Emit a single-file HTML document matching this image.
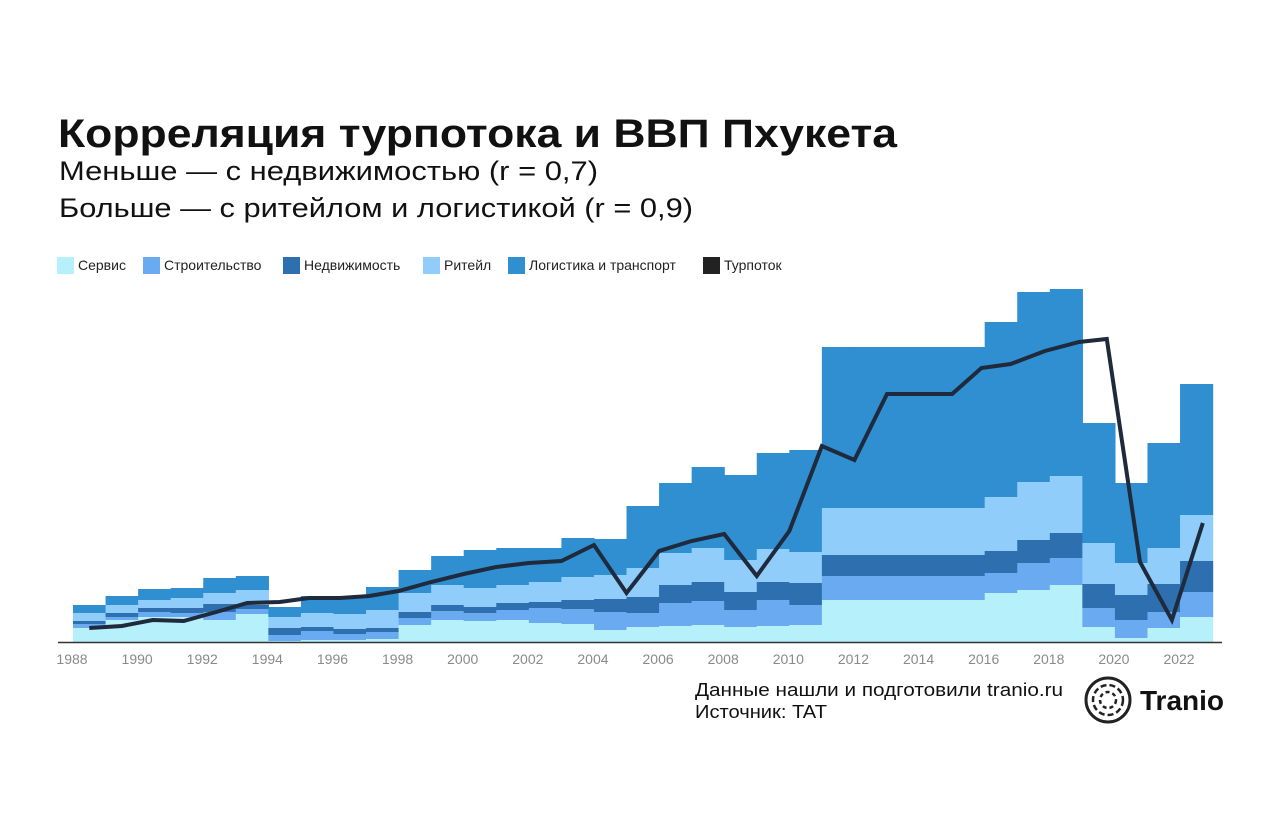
<!DOCTYPE html>
<html><head><meta charset="utf-8">
<style>
body{margin:0;background:#fff;width:1280px;height:820px;overflow:hidden;font-family:"Liberation Sans",sans-serif;}
svg{position:absolute;left:0;top:0}
</style></head>
<body>
<svg width="1280" height="820">
<text x="58" y="147" font-size="40" font-weight="bold" fill="#111" textLength="839" lengthAdjust="spacingAndGlyphs">Корреляция турпотока и ВВП Пхукета</text>
<text x="59" y="180" font-size="27" fill="#111" textLength="539" lengthAdjust="spacingAndGlyphs">Меньше — с недвижимостью (r = 0,7)</text>
<text x="59" y="217" font-size="27" fill="#111" textLength="634" lengthAdjust="spacingAndGlyphs">Больше — с ритейлом и логистикой (r = 0,9)</text>
<g id="legend"></g>
<g id="bars"></g>
<g id="axis"></g>
<g id="line"></g>
<text x="695" y="696" font-size="18" fill="#111" textLength="368" lengthAdjust="spacingAndGlyphs">Данные нашли и подготовили tranio.ru</text>
<text x="695" y="718" font-size="18" fill="#111" textLength="132" lengthAdjust="spacingAndGlyphs">Источник: TAT</text>
<g>
<circle cx="1108" cy="700" r="22" fill="none" stroke="#222" stroke-width="3"/>
<circle cx="1108" cy="700" r="15" fill="none" stroke="#222" stroke-width="2.5" stroke-dasharray="6 3"/>
<circle cx="1108" cy="700" r="8" fill="none" stroke="#222" stroke-width="2.5" stroke-dasharray="4 3"/>
<text x="1140" y="710" font-size="28" font-weight="bold" fill="#111">Tranio</text>
</g>
</svg>
<script>
const NS='http://www.w3.org/2000/svg';
const years=[1988,1989,1990,1991,1992,1993,1994,1995,1996,1997,1998,1999,2000,2001,2002,2003,2004,2005,2006,2007,2008,2009,2010,2011,2012,2013,2014,2015,2016,2017,2018,2019,2020,2021,2022];
const service=[7,11,12.5,12.5,11,14,0.5,1,1,1.5,8.5,11,10.5,11,9.5,9,6,7.5,8,8.5,7.5,8,8.5,21,21,21,21,21,24.5,26,28.5,7.5,2,7,12.5];
const construction=[2,1.5,2.5,2,4,2.5,3,4.5,3,3.5,3.5,4.5,4,5,7.5,7.5,9,7,11.5,12,8.5,13,10,12,12,12,12,12,10,13.5,13.5,9.5,9,8,12.5];
const realty=[1.5,2,2,2.5,4,2,3.5,2,2.5,2,3,3,3,3.5,3,4.5,6.5,8,9,9.5,9,9,11,10.5,10.5,10.5,10.5,10.5,11,11.5,12.5,12,12.5,14,15.5];
const retail=[4,4,4,5,5.5,7.5,5.5,7,7.5,9,9.5,10,9.5,9,10,11.5,12,14.5,16,17,16,16.5,15.5,23.5,23.5,23.5,23.5,23.5,27,29,28.5,20.5,16,18,23];
const logistics=[4,4.5,5.5,5,7.5,7,5,8.5,8.5,11.5,11.5,14.5,19,18.5,17,19.5,18,31,35,40.5,42.5,48,51,80.5,80.5,80.5,80.5,80.5,87.5,95,93.5,60,40,52.5,65.5];
const tourYears=[1988.5,1989.5,1990.45,1991.4,1992.4,1993.35,1994.35,1995.25,1996.2,1997.1,1998,1999,2000,2001,2002,2003,2004,2005,2006,2007,2008,2009,2010,2011,2012,2013,2014,2015,2015.9,2016.8,2017.85,2018.9,2019.75,2020.77,2021.75,2022.7];
const tourists=[7,8,11,10.5,15,19.5,20,22,22,23,25.5,30,34,37.5,39.5,40.5,48.5,24.5,45.5,50.5,54,33,55.5,98,91,124,124,124,137,139,145.5,150,151.5,40,11,59.5];
const tickYears=[1988,1990,1992,1994,1996,1998,2000,2002,2004,2006,2008,2010,2012,2014,2016,2018,2020,2022];
const layers=[['service',service,'#b5f0fb','Сервис'],['construction',construction,'#6aaaf0','Строительство'],['realty',realty,'#2d6faf','Недвижимость'],['retail',retail,'#90cdfa','Ритейл'],['logistics',logistics,'#2f8fd1','Логистика и транспорт']];
const X=y=>73+(y-1988)*32.56;
const Y=v=>642-v*2;
function mk(t,a,p){const e=document.createElementNS(NS,t);for(const k in a)e.setAttribute(k,a[k]);p.appendChild(e);return e;}
const bars=document.getElementById('bars');
years.forEach((yr,i)=>{let base=0;layers.forEach(L=>{const v=L[1][i];const r=mk('rect',{x:X(yr),y:Y(base+v),width:X(yr+1)-X(yr)+0.6,height:v*2,fill:L[2]},bars);


base+=v;});});
const ax=document.getElementById('axis');
const al=mk('line',{x1:58,x2:1222,y1:642.5,y2:642.5,stroke:'#333','stroke-width':1.5},ax);


tickYears.forEach(t=>{const tx=mk('text',{x:X(t)-1,y:664,'font-size':14,fill:'#8a8a8a','text-anchor':'middle'},ax);tx.textContent=t;

});
const pts=tourYears.map((y,i)=>X(y)+','+Y(tourists[i])).join(' ');
const pl=mk('polyline',{points:pts,fill:'none',stroke:'#1f2a3c','stroke-width':4,'stroke-linejoin':'miter'},document.getElementById('line'));


const lg=document.getElementById('legend');
const lx=[57,143,283,423,508,703];
const items=layers.map(L=>[L[3],L[2]]).concat([['Турпоток','#222']]);
items.forEach((it,i)=>{const g=mk('g',{},lg);


mk('rect',{x:lx[i],y:257,width:17,height:17,fill:it[1]},g);const t=mk('text',{x:lx[i]+21,y:270,'font-size':14,fill:'#222'},g);t.textContent=it[0];});
</script>
</body></html>
